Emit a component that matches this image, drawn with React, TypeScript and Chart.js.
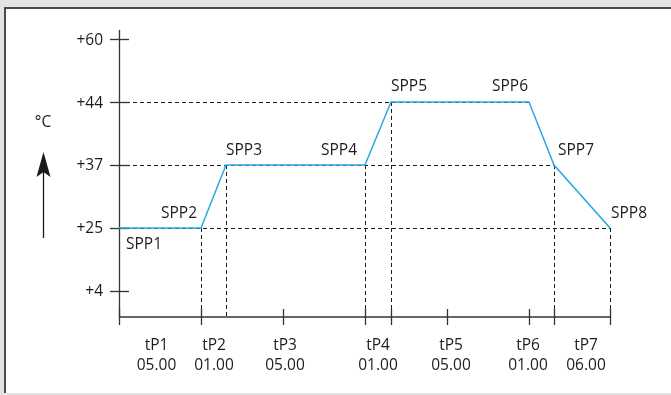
import React, { useEffect, useRef } from 'react';
import { Chart, registerables } from 'chart.js';

Chart.register(...registerables);

// ---- data ----
const stepNames = ['SPP1', 'SPP2', 'SPP3', 'SPP4', 'SPP5', 'SPP6', 'SPP7', 'SPP8'];
const stepTemps = [25, 25, 37, 37, 44, 44, 37, 25];
const stepTimes = [0, 8.2, 10.7, 24.6, 27.2, 41.0, 43.5, 49.1]; // schematic time positions
const tempLevels = [4, 25, 37, 44, 60];
const tempLabels = ['+4', '+25', '+37', '+44', '+60'];
const phaseNames = ['tP1', 'tP2', 'tP3', 'tP4', 'tP5', 'tP6', 'tP7'];
const phaseDurations = ['05.00', '01.00', '05.00', '01.00', '05.00', '01.00', '06.00'];
const phaseLabelTimes = [3.75, 9.5, 16.6, 25.9, 33.2, 40.9, 46.7];
const axisTickTimes = [0, 8.2, 16.4, 24.6, 27.2, 32.8, 41.0, 43.5, 49.1];
const guideSteps = [1, 2, 3, 4, 6, 7];
const guideLevels = [25, 37, 44];

// ---- styles ----
const FONT = "15.5px 'Open Sans', 'Noto Sans', sans-serif";
const TEXT = '#1f1b1c';
const AXIS = '#333333';
const LINE = '#29abe2';
// [dx, dy, align] per step label
const stepLabelStyle: [number, number, CanvasTextAlign][] = [
  [7, 21, 'left'], [-4, -10, 'right'], [0, -10, 'left'], [-8, -10, 'right'],
  [0, -11, 'left'], [-1, -11, 'right'], [4, -10, 'left'], [1, -10, 'left'],
];

const levelIndex = (t: number) => tempLevels.indexOf(t);

const diagramPlugin = {
  id: 'diagram',
  beforeDatasetsDraw(chart: any) {
    const { ctx, chartArea, scales } = chart;
    const xs = scales.x;
    const ys = scales.y;
    const left = chartArea.left;
    const bottom = chartArea.bottom;
    ctx.save();
    // dashed guides
    ctx.strokeStyle = TEXT;
    ctx.lineWidth = 1;
    ctx.setLineDash([4, 3]);
    guideLevels.forEach((lv) => {
      let maxT = 0;
      stepTemps.forEach((t, i) => { if (t === lv) maxT = Math.max(maxT, stepTimes[i]); });
      const y = Math.round(ys.getPixelForValue(levelIndex(lv))) + 0.5;
      ctx.beginPath();
      ctx.moveTo(left, y);
      ctx.lineTo(xs.getPixelForValue(maxT), y);
      ctx.stroke();
    });
    guideSteps.forEach((i) => {
      const x = Math.round(xs.getPixelForValue(stepTimes[i])) + 0.5;
      ctx.beginPath();
      ctx.moveTo(x, ys.getPixelForValue(levelIndex(stepTemps[i])));
      ctx.lineTo(x, bottom);
      ctx.stroke();
    });
    ctx.setLineDash([]);

    // axes
    ctx.strokeStyle = AXIS;
    ctx.lineWidth = 1.3;
    ctx.beginPath();
    ctx.moveTo(left + 0.5, chartArea.top);
    ctx.lineTo(left + 0.5, bottom);
    ctx.lineTo(xs.getPixelForValue(axisTickTimes[axisTickTimes.length - 1]), bottom);
    ctx.stroke();
    // y ticks crossing the axis
    tempLevels.forEach((lv, i) => {
      const y = Math.round(ys.getPixelForValue(i)) + 0.5;
      ctx.beginPath();
      ctx.moveTo(left - 9, y);
      ctx.lineTo(left + 10, y);
      ctx.stroke();
    });
    // x ticks crossing the axis
    axisTickTimes.forEach((t) => {
      const x = Math.round(xs.getPixelForValue(t)) + 0.5;
      ctx.beginPath();
      ctx.moveTo(x, bottom - 8);
      ctx.lineTo(x, bottom + 8);
      ctx.stroke();
    });

    // tick labels
    ctx.fillStyle = TEXT;
    ctx.font = FONT;
    ctx.textBaseline = 'alphabetic';
    ctx.textAlign = 'right';
    tempLabels.forEach((lab, i) => {
      ctx.fillText(lab, left - 16, ys.getPixelForValue(i) + 5.5);
    });
    ctx.textAlign = 'center';
    phaseNames.forEach((name, i) => {
      const x = xs.getPixelForValue(phaseLabelTimes[i]);
      ctx.fillText(name, x, bottom + 33);
      ctx.fillText(phaseDurations[i], x, bottom + 53);
    });

    // unit and arrow
    ctx.textAlign = 'center';
    ctx.fillText('\u00B0C', 43, 127);
    ctx.strokeStyle = '#1a1a1a';
    ctx.lineWidth = 1.3;
    ctx.beginPath();
    ctx.moveTo(43.5, 238);
    ctx.lineTo(43.5, 168);
    ctx.stroke();
    ctx.fillStyle = '#1a1a1a';
    ctx.beginPath();
    ctx.moveTo(43.5, 152);
    ctx.lineTo(50.5, 177);
    ctx.lineTo(43.5, 172);
    ctx.lineTo(36.5, 177);
    ctx.closePath();
    ctx.fill();
    ctx.restore();
  },
  afterDatasetsDraw(chart: any) {
    const { ctx, scales } = chart;
    ctx.save();
    ctx.fillStyle = TEXT;
    ctx.font = FONT;
    ctx.textBaseline = 'alphabetic';
    stepNames.forEach((name, i) => {
      const [dx, dy, align] = stepLabelStyle[i];
      const x = scales.x.getPixelForValue(stepTimes[i]);
      const y = scales.y.getPixelForValue(levelIndex(stepTemps[i]));
      ctx.textAlign = align;
      ctx.fillText(name, x + dx, y + dy);
    });
    ctx.restore();
  },
};

export default function App() {
  const ref = useRef<HTMLCanvasElement | null>(null);
  useEffect(() => {
    document.body.style.margin = '0';
    const canvas = ref.current;
    if (!canvas) return;
    const chart = new Chart(canvas, {
      type: 'line',
      data: {
        datasets: [
          {
            data: stepTimes.map((t, i) => ({ x: t, y: levelIndex(stepTemps[i]) })),
            borderColor: LINE,
            borderWidth: 1.5,
            pointRadius: 0,
            tension: 0,
            fill: false,
          },
        ],
      },
      options: {
        responsive: false,
        animation: false,
        devicePixelRatio: 1,
        layout: { padding: { left: 119, top: 30, right: 61, bottom: 78 } },
        plugins: { legend: { display: false }, tooltip: { enabled: false } },
        scales: {
          x: { type: 'linear', display: false, min: 0, max: 49.1 },
          y: { type: 'linear', display: false, min: -0.413, max: 4.143 },
        },
      },
      plugins: [diagramPlugin],
    });
    return () => chart.destroy();
  }, []);

  return (
    <div style={{ position: 'fixed', left: 0, top: 0, width: 671, height: 395, background: '#e3e3e3', overflow: 'hidden' }}>
      <div
        style={{
          position: 'absolute', left: 4, top: 7, width: 667, height: 386,
          background: '#ffffff', borderTop: '2px solid #4a4a4a', borderLeft: '2px solid #4a4a4a',
          boxSizing: 'border-box',
        }}
      />
      <canvas ref={ref} width={671} height={395} style={{ position: 'absolute', left: 0, top: 0, width: 671, height: 395 }} />
    </div>
  );
}
